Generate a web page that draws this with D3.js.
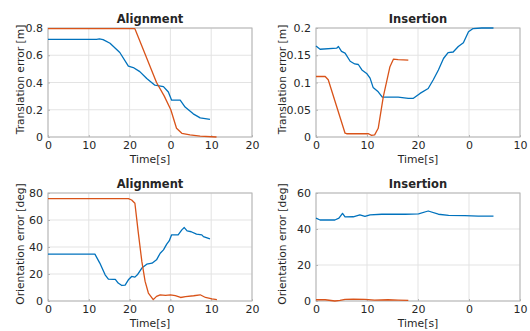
<!DOCTYPE html>
<html>
<head>
<meta charset="utf-8">
<script src="https://cdn.jsdelivr.net/npm/d3@7"></script>
<style>
  body { margin: 0; background: #fff; }
  text { font-family: "DejaVu Sans", sans-serif; fill: #262626; }
</style>
</head>
<body>
<script>
// x tick labels (time restarts at phase boundary)
var xLabelsLeft = ["0", "10", "20", "0", "10", "20"];
var xLabelsRight = ["0", "10", "20", "0", "10"];

// Alignment, translation error [m]
var alTransBlueT = [0, 11.9, 12.6, 13.5, 15.2, 17.6, 19.7, 20.9, 22.5, 24.2, 26.2, 28.3, 29.5, 30.3, 32.4, 33.6, 35.6, 37.3, 39.7];
var alTransBlueV = [0.717, 0.717, 0.72, 0.715, 0.688, 0.62, 0.52, 0.51, 0.48, 0.43, 0.38, 0.37, 0.33, 0.27, 0.27, 0.22, 0.17, 0.14, 0.13];
var alTransRedT = [0, 21.3, 26.6, 28.5, 30.1, 31.5, 32.8, 34.8, 37.3, 41.3];
var alTransRedV = [0.795, 0.795, 0.4, 0.3, 0.2, 0.064, 0.027, 0.015, 0.007, 0.0];

// Insertion, translation error [m]
var inTransBlueT = [0, 0.8, 4.05, 4.4, 5.0, 5.7, 6.7, 7.6, 8.3, 9, 10, 10.6, 11.2, 12.2, 13, 13.8, 16.1, 18.1, 19.1, 20.4, 22, 23, 24, 25, 25.9, 26.9, 27.9, 28.9, 29.9, 30.8, 32.5, 34.8];
var inTransBlueV = [0.167, 0.161, 0.163, 0.166, 0.157, 0.154, 0.139, 0.134, 0.133, 0.123, 0.116, 0.108, 0.091, 0.083, 0.073, 0.073, 0.073, 0.071, 0.071, 0.080, 0.089, 0.105, 0.123, 0.144, 0.155, 0.156, 0.166, 0.173, 0.193, 0.199, 0.2, 0.2];
var inTransRedT = [0, 1.8, 2.4, 5.7, 6, 10.3, 10.9, 11.5, 12.2, 13.2, 14.5, 15.2, 16.1, 18.1];
var inTransRedV = [0.111, 0.111, 0.105, 0.007, 0.006, 0.006, 0.003, 0.004, 0.016, 0.074, 0.129, 0.143, 0.142, 0.141];

// Alignment, orientation error [deg]
var alOrientBlueT = [0, 11.5, 12.7, 14, 14.8, 16, 16.5, 17.2, 18.1, 18.9, 19.7, 20.5, 21.3, 21.9, 23, 24.2, 25.5, 26.6, 27.5, 28.3, 29.1, 29.7, 30.3, 31.9, 32.8, 33.4, 34.1, 35.1, 36.4, 37.7, 38.1, 39.7];
var alOrientBlueV = [34.7, 34.7, 28.1, 19.4, 16.2, 16, 16, 13.3, 11.5, 11.8, 15.7, 18.2, 17.7, 19.4, 24.4, 27.3, 28, 30.5, 35.4, 37.9, 42.1, 44.5, 49, 49, 52.7, 54.4, 51.9, 51.3, 49.5, 49, 47.7, 46];
var alOrientRedT = [0, 19.7, 20.5, 21.3, 22.1, 23, 23.8, 24.6, 25.8, 26.6, 27.5, 28.8, 30, 31.2, 32.5, 33.7, 35.7, 37.3, 38.6, 40.2, 41.4];
var alOrientRedV = [75.8, 75.8, 74.8, 72.4, 51.4, 29.3, 14.5, 5.9, 1, 3.4, 4.6, 4.1, 4.6, 3.9, 2.6, 3.2, 3.9, 4.6, 2.6, 1.5, 1.0];

// Insertion, orientation error [deg]
var inOrientBlueT = [0, 0.8, 3.7, 4.5, 5.2, 5.7, 7.3, 8.6, 9.6, 10.6, 12.9, 17.5, 20.1, 22, 24, 26, 29.2, 31.8, 34.8];
var inOrientBlueV = [46, 45, 45, 46, 48.7, 46.7, 46.8, 47.9, 47, 47.9, 48.2, 48.2, 48.4, 50, 48.2, 47.6, 47.4, 47.2, 47.2];
var inOrientRedT = [0, 1.8, 3.7, 4.7, 5.7, 7.3, 9.6, 11.5, 14.1, 16.1, 18.1];
var inOrientRedV = [0.7, 0.7, 0, 0.3, 0.9, 1, 0.9, 0.5, 0.7, 0.5, 0.3];

var blue = "#0072BD", red = "#D95319";

var svg = d3.select("body").append("svg")
  .attr("width", 530)
  .attr("height", 331);

function zip(t, v) {
  return t.map(function (d, i) { return { t: d, v: v[i] }; });
}

function panel(opt) {
  var x = d3.scaleLinear().domain([0, opt.xLabels.length - 1]).range([opt.left, opt.right]);
  var y = d3.scaleLinear().domain([0, opt.yMax]).range([opt.bottom, opt.top]);
  var g = svg.append("g");
  var xt = d3.range(opt.xLabels.length);

  // grid
  g.selectAll(".gx").data(xt).enter().append("line")
    .attr("x1", function (d) { return x(d); }).attr("x2", function (d) { return x(d); })
    .attr("y1", opt.top).attr("y2", opt.bottom)
    .attr("stroke", "#e3e3e3").attr("stroke-width", 1);
  g.selectAll(".gy").data(opt.yTicks).enter().append("line")
    .attr("x1", opt.left).attr("x2", opt.right)
    .attr("y1", function (d) { return y(d); }).attr("y2", function (d) { return y(d); })
    .attr("stroke", "#e3e3e3").attr("stroke-width", 1);

  // box
  g.append("rect")
    .attr("x", opt.left).attr("y", opt.top)
    .attr("width", opt.right - opt.left).attr("height", opt.bottom - opt.top)
    .attr("fill", "none").attr("stroke", "#b5b5b5").attr("stroke-width", 1);

  // axes (inward ticks)
  g.append("g")
    .attr("transform", "translate(0," + opt.bottom + ")")
    .call(d3.axisBottom(x).tickValues(xt).tickSize(-2).tickPadding(4)
      .tickFormat(function (d, i) { return opt.xLabels[i]; }))
    .call(function (a) {
      a.select(".domain").remove();
      a.selectAll("line").attr("stroke", "#b5b5b5");
      a.selectAll("text").style("font-size", "11px").attr("fill", "#262626");
    });
  g.append("g")
    .attr("transform", "translate(" + opt.left + ",0)")
    .call(d3.axisLeft(y).tickValues(opt.yTicks).tickSize(-2).tickPadding(5)
      .tickFormat(function (d) { return d3.format("~g")(d); }))
    .call(function (a) {
      a.select(".domain").remove();
      a.selectAll("line").attr("stroke", "#b5b5b5");
      a.selectAll("text").style("font-size", "11px").attr("fill", "#262626");
    });

  var line = d3.line()
    .x(function (d) { return x(d.t / 10); })
    .y(function (d) { return y(d.v); });

  opt.series.forEach(function (s) {
    g.append("path")
      .datum(s.data)
      .attr("d", line)
      .attr("fill", "none")
      .attr("stroke", s.color)
      .attr("stroke-width", 1.3)
      .attr("stroke-linejoin", "round");
  });

  g.append("text")
    .attr("x", (opt.left + opt.right) / 2).attr("y", opt.top - 5)
    .attr("text-anchor", "middle")
    .style("font-size", "11.5px").style("font-weight", "bold")
    .attr("fill", "#000")
    .text(opt.title);

  g.append("text")
    .attr("x", (opt.left + opt.right) / 2).attr("y", opt.bottom + 26)
    .attr("text-anchor", "middle")
    .style("font-size", "10.8px")
    .text("Time[s]");

  g.append("text")
    .attr("transform", "translate(" + opt.ylx + "," + ((opt.top + opt.bottom) / 2 - 3) + ") rotate(-90)")
    .attr("text-anchor", "middle")
    .style("font-size", "10.7px")
    .text(opt.yLabel);
}

panel({
  left: 48, right: 252, top: 28, bottom: 137, ylx: 24,
  xLabels: xLabelsLeft, yMax: 0.8, yTicks: [0, 0.2, 0.4, 0.6, 0.8],
  title: "Alignment", yLabel: "Translation error [m]",
  series: [
    { color: blue, data: zip(alTransBlueT, alTransBlueV) },
    { color: red, data: zip(alTransRedT, alTransRedV) }
  ]
});

panel({
  left: 316, right: 520, top: 28, bottom: 137, ylx: 286,
  xLabels: xLabelsRight, yMax: 0.2, yTicks: [0, 0.05, 0.1, 0.15, 0.2],
  title: "Insertion", yLabel: "Translation error [m]",
  series: [
    { color: blue, data: zip(inTransBlueT, inTransBlueV) },
    { color: red, data: zip(inTransRedT, inTransRedV) }
  ]
});

panel({
  left: 48, right: 252, top: 193, bottom: 301, ylx: 24,
  xLabels: xLabelsLeft, yMax: 80, yTicks: [0, 20, 40, 60, 80],
  title: "Alignment", yLabel: "Orientation error [deg]",
  series: [
    { color: blue, data: zip(alOrientBlueT, alOrientBlueV) },
    { color: red, data: zip(alOrientRedT, alOrientRedV) }
  ]
});

panel({
  left: 316, right: 520, top: 193, bottom: 301, ylx: 286,
  xLabels: xLabelsRight, yMax: 60, yTicks: [0, 20, 40, 60],
  title: "Insertion", yLabel: "Orientation error [deg]",
  series: [
    { color: blue, data: zip(inOrientBlueT, inOrientBlueV) },
    { color: red, data: zip(inOrientRedT, inOrientRedV) }
  ]
});
</script>
</body>
</html>
